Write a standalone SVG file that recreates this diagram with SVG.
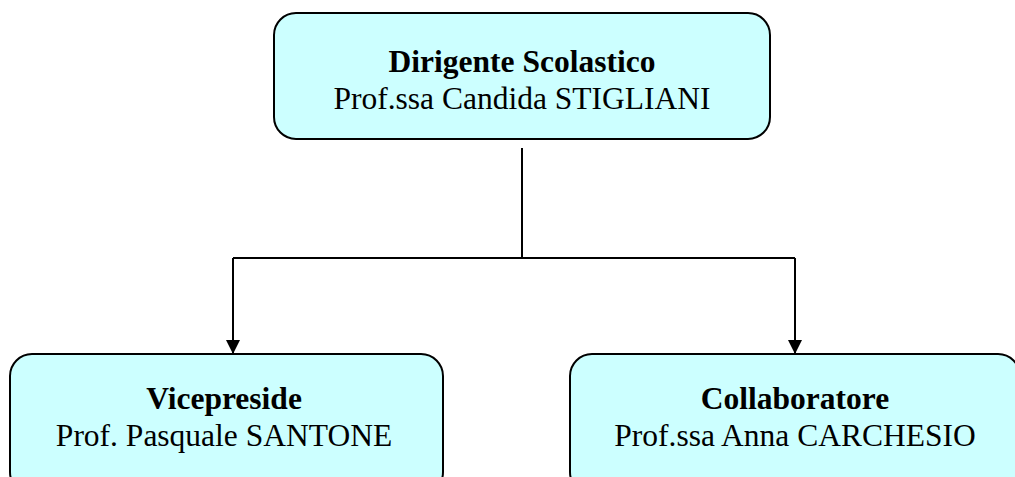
<svg xmlns="http://www.w3.org/2000/svg" width="1015" height="477" viewBox="0 0 1015 477">
<style>
.box{fill:#CCFFFF;stroke:#000;stroke-width:2}
.t{font-family:"Liberation Serif","Times New Roman",serif;font-size:31.5px;text-anchor:middle;fill:#000}
.b{font-weight:bold}
.c{stroke:#000;stroke-width:2;fill:none}
</style>
<defs>
<marker id="arr" markerWidth="14" markerHeight="14" refX="14" refY="7" orient="auto" markerUnits="userSpaceOnUse">
<path d="M0,0 L14,7 L0,14 Z" fill="#000"/>
</marker>
</defs>
<rect width="1015" height="477" fill="#fff"/>
<g id="connectors">
<path class="c" d="M522,148 V258"/>
<path class="c" d="M233,258 H795"/>
<path class="c" d="M233,258 V354" marker-end="url(#arr)"/>
<path class="c" d="M795,258 V354" marker-end="url(#arr)"/>
</g>
<g id="dirigente">
<rect class="box" x="274" y="13" width="496" height="126" rx="22"/>
<text class="t b" x="522" y="72">Dirigente Scolastico</text>
<text class="t" x="522" y="109">Prof.ssa Candida STIGLIANI</text>
</g>
<g id="vicepreside">
<rect class="box" x="10" y="354" width="433" height="140" rx="22"/>
<text class="t b" x="224" y="409">Vicepreside</text>
<text class="t" x="224" y="446">Prof. Pasquale SANTONE</text>
</g>
<g id="collaboratore">
<rect class="box" x="570" y="354" width="450" height="140" rx="22"/>
<text class="t b" x="795" y="409">Collaboratore</text>
<text class="t" x="795" y="446">Prof.ssa Anna CARCHESIO</text>
</g>
</svg>
